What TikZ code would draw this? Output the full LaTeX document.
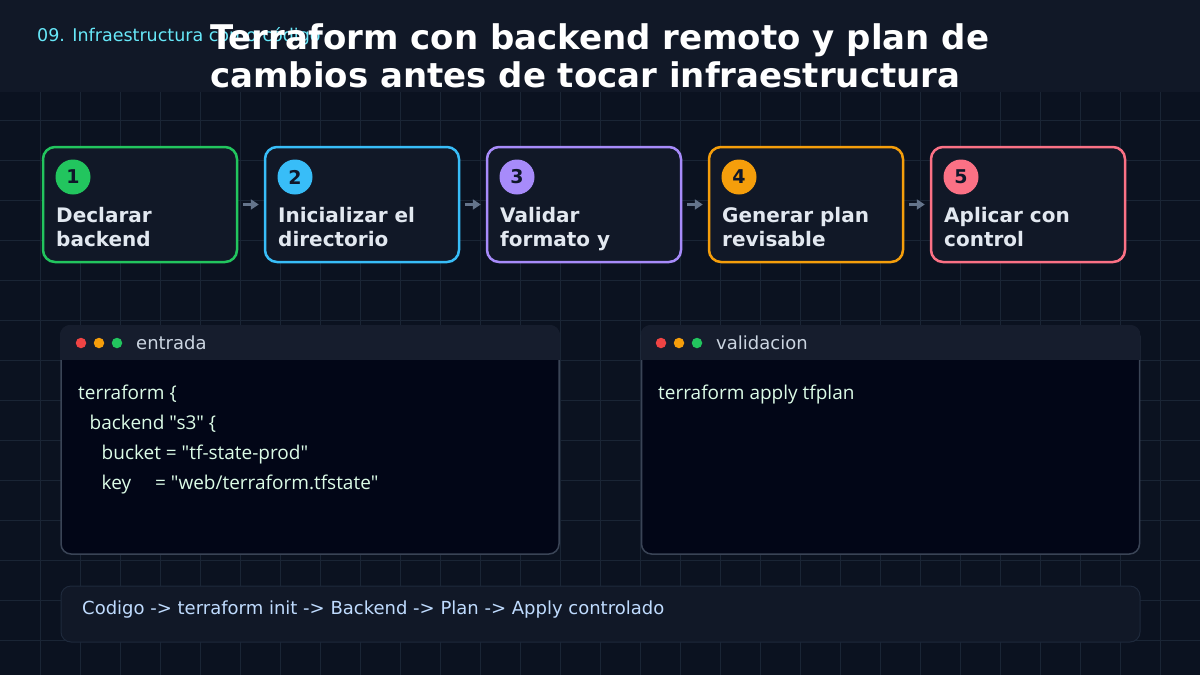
\documentclass[tikz,border=0pt]{standalone}
\usepackage{fontspec}
\setmainfont{DejaVu Sans}
\newfontfamily\codefont{Open Sans}
\usetikzlibrary{arrows.meta}
\definecolor{bgc}{HTML}{0B1220}
\definecolor{headc}{HTML}{111827}
\definecolor{gridc}{HTML}{1A2535}
\definecolor{boxfill}{HTML}{111827}
\definecolor{cgreen}{HTML}{22C55E}
\definecolor{cblue}{HTML}{38BDF8}
\definecolor{cpurple}{HTML}{A78BFA}
\definecolor{corange}{HTML}{F59E0B}
\definecolor{cpink}{HTML}{FB7185}
\definecolor{cred}{HTML}{EF4444}
\definecolor{numc}{HTML}{0F172A}
\definecolor{steptext}{HTML}{E2E8F0}
\definecolor{arrc}{HTML}{64748B}
\definecolor{kicker}{HTML}{67E8F9}
\definecolor{panelhead}{HTML}{161D2D}
\definecolor{panelbody}{HTML}{020617}
\definecolor{panelborder}{HTML}{3A4456}
\definecolor{paneltitle}{HTML}{CBD5E1}
\definecolor{codec}{HTML}{DCFCE7}
\definecolor{barfill}{HTML}{111827}
\definecolor{barborder}{HTML}{1E293B}
\definecolor{bartext}{HTML}{BFDBFE}
\tikzset{
  stepbox/.style={draw, line width=2.5pt, fill=boxfill, rounded corners=12pt, minimum width=194pt, minimum height=115pt, inner sep=0pt},
  numdot/.style={circle, minimum size=35pt, inner sep=0pt, text=numc, font=\fontsize{19}{20}\selectfont\bfseries},
  steplabel/.style={anchor=base west, inner sep=0pt, text=steptext, font=\fontsize{20}{22}\selectfont\bfseries},
  arr/.style={-{Triangle[length=8pt,width=10pt]}, line width=3pt, draw=arrc},
  panel/.style={draw=panelborder, line width=1.5pt, fill=panelbody, rounded corners=10pt, minimum width=498pt, minimum height=228pt, inner sep=0pt},
  wdot/.style={circle, minimum size=10.5pt, inner sep=0pt},
  ptitle/.style={anchor=base west, inner sep=0pt, text=paneltitle, font=\fontsize{18}{20}\selectfont},
  code/.style={anchor=base west, inner sep=0pt, text=codec, font=\codefont\fontsize{19}{20}\selectfont},
}
\begin{document}
\begin{tikzpicture}[x=1pt,y=-1pt]
\useasboundingbox (0,0) rectangle (1200,675);
\fill[bgc] (0,0) rectangle (1200,675);
\foreach \gx in {40,80,...,1160} \draw[gridc, line width=1pt] (\gx,0) -- (\gx,675);
\foreach \gy in {40,80,...,640} \draw[gridc, line width=1pt] (0,\gy) -- (1200,\gy);
\fill[headc] (0,0) rectangle (1200,92);

\node[anchor=base west, inner sep=0pt, text=kicker, font=\fontsize{17.5}{20}\selectfont] (kick) at (37,41) {09. Infraestructura como código};
\node[anchor=base west, inner sep=0pt, text=white, font=\fontsize{34}{38}\selectfont\bfseries] (t1) at (210,49) {Terraform con backend remoto y plan de};
\node[anchor=base west, inner sep=0pt, text=white, font=\fontsize{34}{38}\selectfont\bfseries] (t2) at (210,87) {cambios antes de tocar infraestructura};

% steps
\foreach \i/\c/\a/\b in {1/cgreen/Declarar/backend, 2/cblue/Inicializar el/directorio, 3/cpurple/Validar/formato y, 4/corange/Generar plan/revisable, 5/cpink/Aplicar con/control}{
  \pgfmathsetmacro{\xx}{140+222*(\i-1)}
  \pgfmathsetmacro{\lx}{56+222*(\i-1)}
  \pgfmathsetmacro{\cx}{73+222*(\i-1)}
  \node[stepbox, draw=\c] (s\i) at (\xx,204.5) {};
  \node[numdot, fill=\c] (n\i) at (\cx,177) {\i};
  \node[steplabel] (la\i) at (\lx,222) {\a};
  \node[steplabel] (lb\i) at (\lx,246) {\b};
}
\foreach \i/\j in {1/2,2/3,3/4,4/5}
  \draw[arr] ([xshift=5pt]s\i.east) -- ([xshift=-5pt]s\j.west);

% panels
\node[panel] (p1) at (310,440) {};
\node[panel] (p2) at (890.5,440) {};
\begin{scope}
\clip[rounded corners=10pt] (60,325) rectangle (560,555);
\fill[panelhead] (60,325) rectangle (560,360);
\end{scope}
\begin{scope}
\clip[rounded corners=10pt] (640.5,325) rectangle (1140.5,555);
\fill[panelhead] (640.5,325) rectangle (1140.5,360);
\end{scope}
\node[wdot, fill=cred] (d11) at (81,343) {};
\node[wdot, fill=corange] (d12) at (99,343) {};
\node[wdot, fill=cgreen] (d13) at (117,343) {};
\node[ptitle] (pt1) at (136,349.5) {entrada};
\node[wdot, fill=cred] (d21) at (661,343) {};
\node[wdot, fill=corange] (d22) at (679,343) {};
\node[wdot, fill=cgreen] (d23) at (697,343) {};
\node[ptitle] (pt2) at (716,349.5) {validacion};

\node[code] (c1) at (78,399) {terraform \{};
\node[code] (c2) at (89.5,429) {backend "s3" \{};
\node[code] (c3) at (101.5,459) {bucket = "tf-state-prod"};
\node[code] (c4) at (101.5,489) {key\hspace{24pt}= "web/terraform.tfstate"};
\node[code] (c5) at (658,399) {terraform apply tfplan};

% bottom bar
\node[draw=barborder, line width=1pt, fill=barfill, rounded corners=10pt, minimum width=1079pt, minimum height=56pt, inner sep=0pt] (bar) at (600.5,614) {};
\node[anchor=base west, inner sep=0pt, text=bartext, font=\fontsize{18}{20}\selectfont] (bt) at (82,614.5) {Codigo -> terraform init -> Backend -> Plan -> Apply controlado};
\end{tikzpicture}
\end{document}
